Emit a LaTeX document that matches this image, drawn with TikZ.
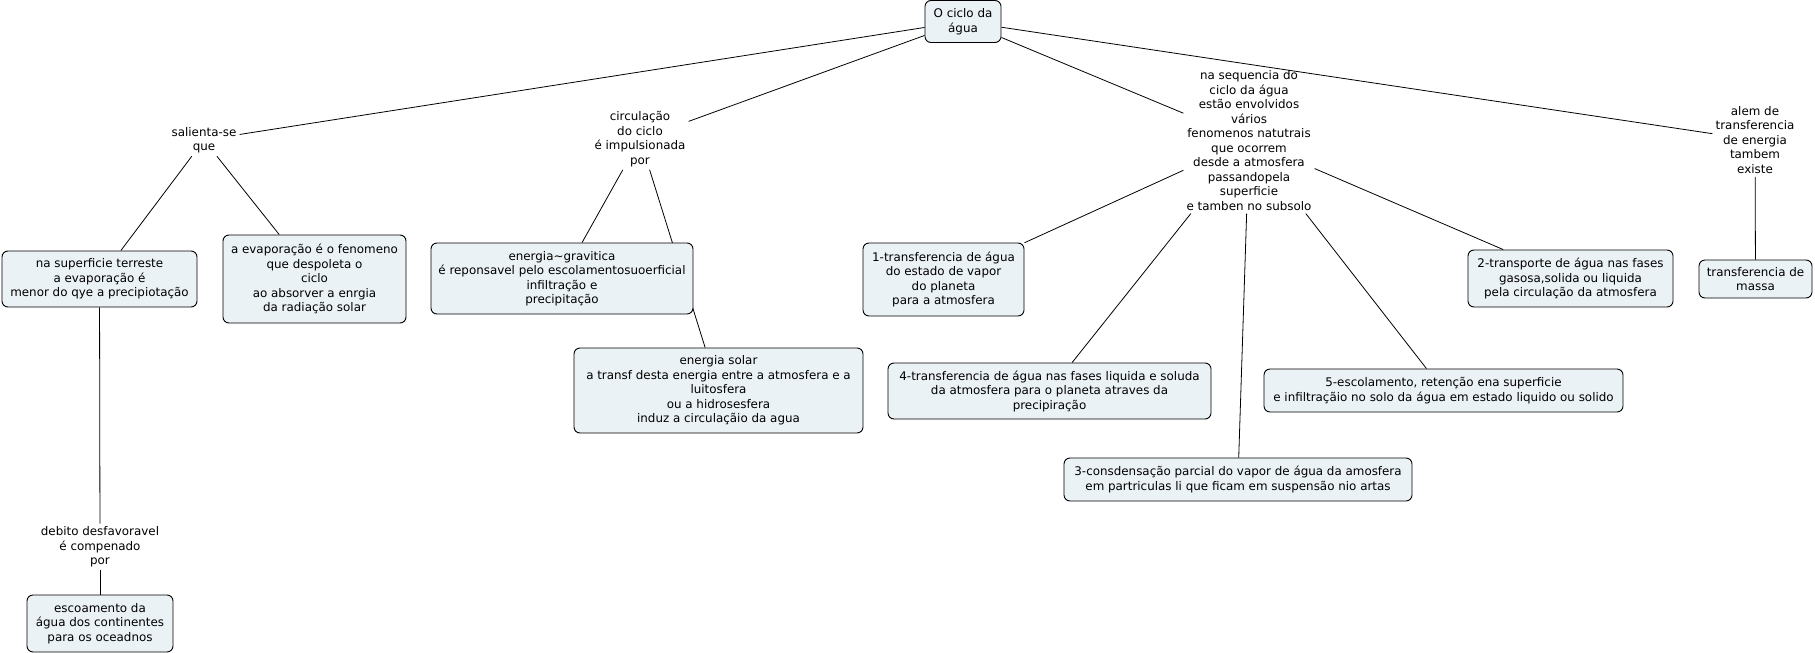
\documentclass[tikz,border=0pt]{standalone}
\usepackage{fontspec}
\setmainfont{DejaVu Sans}
\pgfdeclarelayer{bg}
\pgfsetlayers{bg,main}
\definecolor{boxfill}{RGB}{235,242,245}
\tikzset{
  concept/.style={draw=black, fill=boxfill, rounded corners=6pt, align=center, inner sep=0pt, line width=0.9pt, font=\fontsize{11.9}{14.5}\selectfont},
  linker/.style={align=center, inner sep=3pt, font=\fontsize{11.9}{14.5}\selectfont},
  conn/.style={draw=black, line width=0.8pt}
}
\begin{document}
\begin{tikzpicture}[x=1pt,y=-1pt]
\useasboundingbox (0,0) rectangle (1815,653);
% concepts
\node[concept, minimum width=76, minimum height=42] (root) at (963,21.5) {O ciclo da\\água};
\node[concept, minimum width=195, minimum height=56] (A) at (99.5,279) {na superficie terreste\\a evaporação é\\menor do qye a precipiotação};
\node[concept, minimum width=183, minimum height=88] (B) at (314.5,279) {a evaporação é o fenomeno\\que despoleta o\\ciclo\\ao absorver a enrgia\\da radiação solar};
\node[concept, minimum width=146, minimum height=57] (C) at (100,623.5) {escoamento da\\água dos continentes\\para os oceadnos};
\node[concept, minimum width=262, minimum height=71] (D) at (562,278.5) {energia\textasciitilde gravitica\\é reponsavel pelo escolamentosuoerficial\\infiltração e\\precipitação};
\node[concept, minimum width=289, minimum height=85] (E) at (718.5,390.5) {energia solar\\a transf desta energia entre a atmosfera e a\\luitosfera\\ou a hidrosesfera\\induz a circulaçãio da agua};
\node[concept, minimum width=161, minimum height=73] (F) at (943.5,279.5) {1-transferencia de água\\do estado de vapor\\do planeta\\para a atmosfera};
\node[concept, minimum width=323, minimum height=56] (G) at (1049.5,391) {4-transferencia de água nas fases liquida e soluda\\da atmosfera para o planeta atraves da\\precipiração};
\node[concept, minimum width=348, minimum height=43] (H) at (1238,479.5) {3-consdensação parcial do vapor de água da amosfera\\em partriculas li que ficam em suspensão nio artas};
\node[concept, minimum width=359, minimum height=43] (I) at (1443.5,390.5) {5-escolamento, retenção ena superficie\\e infiltraçãio no solo da água em estado liquido ou solido};
\node[concept, minimum width=205, minimum height=57] (J) at (1570.5,278.5) {2-transporte de água nas fases\\gasosa,solida ou liquida\\pela circulação da atmosfera};
\node[concept, minimum width=113, minimum height=38] (K) at (1755.5,279) {transferencia de\\massa};
% linking phrases
\node[linker] (sal) at (204,140) {salienta-se\\que};
\node[linker] (deb) at (100,547) {debito desfavoravel\\é compenado\\por};
\node[linker] (circ) at (640,139) {circulação\\do ciclo\\é impulsionada\\por};
\node[linker] (seq) at (1249,140.5) {na sequencia do\\ciclo da água\\estão envolvidos\\vários\\fenomenos natutrais\\que ocorrem\\desde a atmosfera\\passandopela\\superficie\\e tamben no subsolo};
\node[linker] (alem) at (1755,140) {alem de\\transferencia\\de energia\\tambem\\existe};
% connectors
\begin{pgfonlayer}{bg}
\draw[conn] (root) -- (sal);
\draw[conn] (sal) -- (A);
\draw[conn] (sal) -- (B);
\draw[conn] (A) -- (deb);
\draw[conn] (deb) -- (C);
\draw[conn] (root) -- (circ);
\draw[conn] (circ) -- (D);
\draw[conn] (circ) -- (E);
\draw[conn] (root) -- (seq);
\draw[conn] (seq) -- (F);
\draw[conn] (seq) -- (G);
\draw[conn] (seq) -- (H);
\draw[conn] (seq) -- (I);
\draw[conn] (seq) -- (J);
\draw[conn] (root) -- (alem);
\draw[conn] (alem) -- (K);
\end{pgfonlayer}
\end{tikzpicture}
\end{document}
